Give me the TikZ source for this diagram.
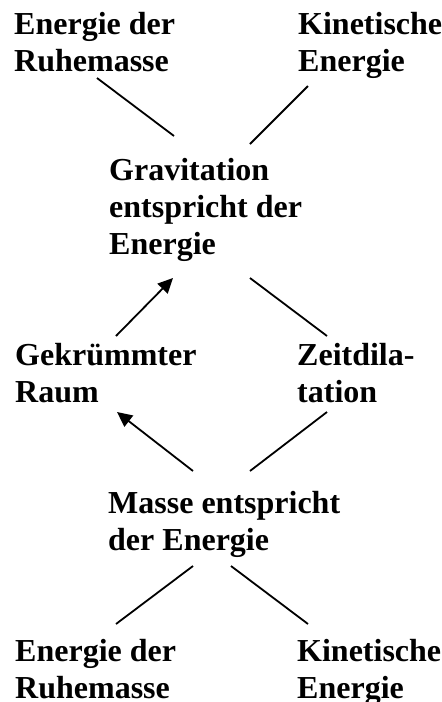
\documentclass[tikz,border=0pt]{standalone}
\usepackage{fontspec}
\setmainfont{Liberation Serif}
\usetikzlibrary{arrows.meta}
\tikzset{
  lbl/.style={anchor=base west, align=left, inner sep=0pt,
    font=\bfseries\fontsize{32}{37}\selectfont},
  conn/.style={line width=1.8pt},
  arr/.style={conn, -{Triangle[length=15pt,width=14pt]}}
}
\begin{document}
\begin{tikzpicture}[x=1pt,y=-1pt]
\useasboundingbox (0,0) rectangle (442,702);
% text nodes (anchored at the baseline of their last line)
\node[lbl] (tl) at (14,71) {Energie der\\Ruhemasse};
\node[lbl] (tr) at (298,71) {Kinetische\\Energie};
\node[lbl] (grav) at (109,254) {Gravitation\\entspricht der\\Energie};
\node[lbl] (raum) at (15,402) {Gekrümmter\\Raum};
\node[lbl] (zeit) at (297,402) {Zeitdila-\\tation};
\node[lbl] (masse) at (108,550) {Masse entspricht\\der Energie};
\node[lbl] (bl) at (15,698) {Energie der\\Ruhemasse};
\node[lbl] (br) at (297,698) {Kinetische\\Energie};
% connector end points
\coordinate (tl-out) at (97,78);
\coordinate (grav-in1) at (174,136);
\coordinate (tr-out) at (308,86);
\coordinate (grav-in2) at (250,144);
\coordinate (raum-top) at (116,336);
\coordinate (grav-bl) at (173,278);
\coordinate (grav-br) at (250,278);
\coordinate (zeit-top) at (327,336);
\coordinate (masse-tl) at (193,471);
\coordinate (raum-bot) at (117,412);
\coordinate (masse-tr) at (250,471);
\coordinate (zeit-bot) at (327,412);
\coordinate (masse-bl) at (193,566);
\coordinate (bl-top) at (116,624);
\coordinate (masse-br) at (231,566);
\coordinate (br-top) at (308,624);
% connectors
\draw[conn] (tl-out) -- (grav-in1);
\draw[conn] (tr-out) -- (grav-in2);
\draw[arr] (raum-top) -- (grav-bl);
\draw[conn] (grav-br) -- (zeit-top);
\draw[arr] (masse-tl) -- (raum-bot);
\draw[conn] (masse-tr) -- (zeit-bot);
\draw[conn] (masse-bl) -- (bl-top);
\draw[conn] (masse-br) -- (br-top);
\end{tikzpicture}
\end{document}
